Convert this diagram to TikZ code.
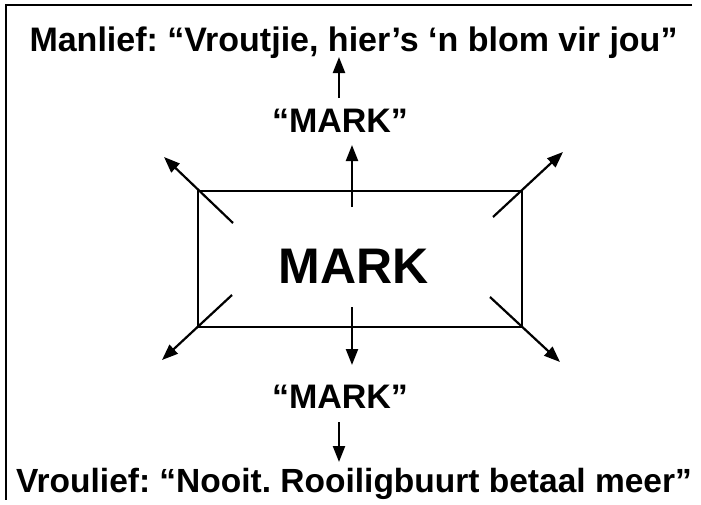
\documentclass[tikz,border=0pt]{standalone}
\usepackage{fontspec}
\setmainfont{Liberation Sans}
\usetikzlibrary{arrows.meta}
\frenchspacing
\begin{document}
\begin{tikzpicture}[x=1pt,y=-1pt, line width=2.2pt,
  arr/.style={-{Triangle[length=16pt,width=12pt]}},
  txt/.style={font=\bfseries\fontsize{34}{38}\selectfont, inner sep=0pt, anchor=base},
  bottxt/.style={font=\bfseries\fontsize{33.5}{38}\selectfont, inner sep=0pt, anchor=base},
  bigtxt/.style={font=\bfseries\fontsize{50}{55}\selectfont, inner sep=0pt, anchor=base}]
\useasboundingbox (0,0) rectangle (701,504);
% frame (top and left edges)
\coordinate (fr) at (692,5);
\coordinate (ftl) at (6,5);
\coordinate (fbl) at (6,500);
\draw[line width=2pt] (fr) -- (ftl) -- (fbl);
% texts
\node[txt] (top) at (353.5,51) {Manlief: “Vroutjie, hier’s ‘n blom vir jou”};
\node[txt] (mt) at (340,132) {“MARK”};
\node[txt] (mb) at (340,408) {“MARK”};
\node[bottxt] (bot) at (354,492) {Vroulief: “Nooit. Rooiligbuurt betaal meer”};
% box
\node[draw, line width=2.4pt, minimum width=324pt, minimum height=136pt, inner sep=0pt] (box) at (360,259) {};
\node[bigtxt] (big) at (353.5,283) {MARK};
% arrow endpoints
\coordinate (tm0) at (352,207); \coordinate (tm1) at (352,145);
\coordinate (bm0) at (352,307); \coordinate (bm1) at (352,365);
\coordinate (tl0) at (233,223); \coordinate (tl1) at (164,157);
\coordinate (tr0) at (493,217); \coordinate (tr1) at (563,152);
\coordinate (bl0) at (232,295); \coordinate (bl1) at (162,360);
\coordinate (br0) at (490,297); \coordinate (br1) at (560,362);
\draw[arr] (tm0) -- (tm1);
\draw[arr] (bm0) -- (bm1);
\draw[arr] (tl0) -- (tl1);
\draw[arr] (tr0) -- (tr1);
\draw[arr] (bl0) -- (bl1);
\draw[arr] (br0) -- (br1);
% connecting arrows
\coordinate (ua0) at (339,98); \coordinate (ua1) at (339,57);
\coordinate (da0) at (339,422); \coordinate (da1) at (339,462);
\draw[arr] (ua0) -- (ua1);
\draw[arr] (da0) -- (da1);
\end{tikzpicture}
\end{document}
